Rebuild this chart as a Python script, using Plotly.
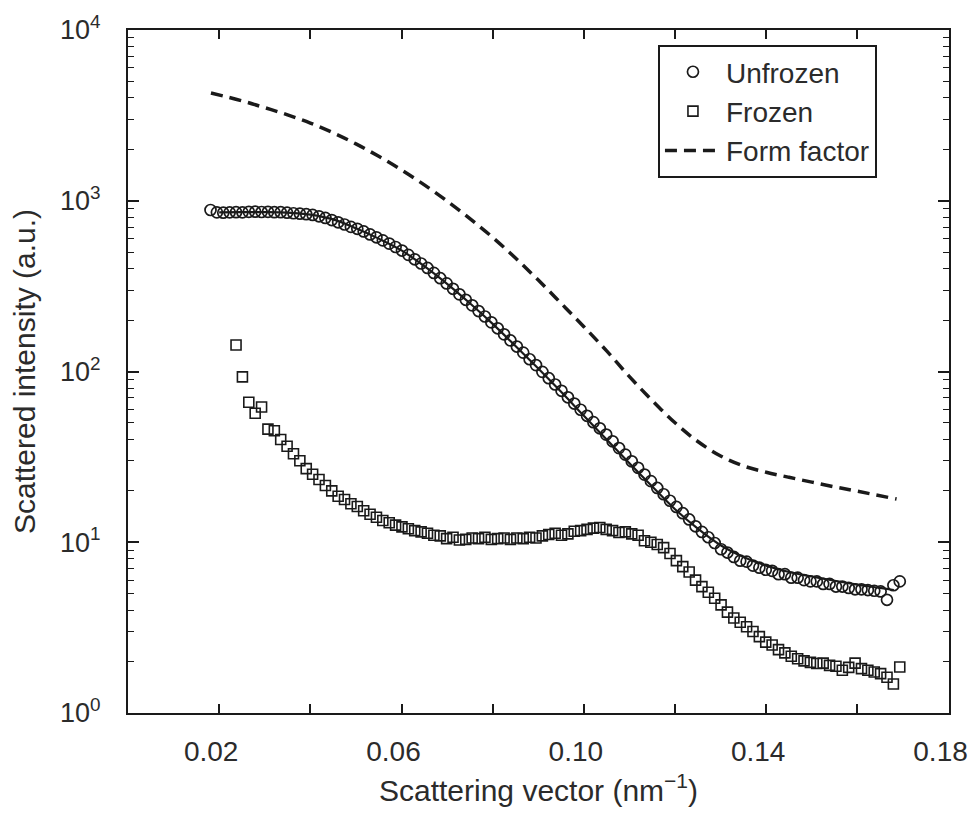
import plotly.graph_objects as go

# scattering vector grid (nm^-1) shared by both measured curves
q = [
    0.0181, 0.0195, 0.0209, 0.0223, 0.0237, 0.0251, 0.0265, 0.0279, 0.0293, 0.0307,
    0.0321, 0.0335, 0.0349, 0.0363, 0.0377, 0.0391, 0.0405, 0.0419, 0.0433, 0.0447,
    0.0461, 0.0475, 0.0489, 0.0503, 0.0517, 0.0531, 0.0545, 0.0559, 0.0573, 0.0587,
    0.0601, 0.0615, 0.0629, 0.0643, 0.0657, 0.0671, 0.0685, 0.0699, 0.0713, 0.0727,
    0.0741, 0.0755, 0.0769, 0.0783, 0.0797, 0.0811, 0.0825, 0.0839, 0.0853, 0.0867,
    0.0881, 0.0895, 0.0909, 0.0923, 0.0937, 0.0951, 0.0965, 0.0979, 0.0993, 0.1007,
    0.1021, 0.1035, 0.1049, 0.1063, 0.1077, 0.1091, 0.1105, 0.1119, 0.1133, 0.1147,
    0.1161, 0.1175, 0.1189, 0.1203, 0.1217, 0.1231, 0.1245, 0.1259, 0.1273, 0.1287,
    0.1301, 0.1315, 0.1329, 0.1343, 0.1357, 0.1371, 0.1385, 0.1399, 0.1413, 0.1427,
    0.1441, 0.1455, 0.1469, 0.1483, 0.1497, 0.1511, 0.1525, 0.1539, 0.1553, 0.1567,
    0.1581, 0.1595, 0.1609, 0.1623, 0.1637, 0.1651, 0.1665, 0.1679, 0.1693,
]

unfrozen = [
    883, 855, 851, 855, 857, 855, 861, 863, 859, 861,
    857, 857, 851, 845, 840, 834, 826, 811, 793, 771,
    748, 726, 703, 685, 661, 635, 611, 586, 561, 536,
    511, 482, 454, 429, 404, 378, 352, 328, 305, 283,
    263, 244, 226, 210, 194, 179, 165, 152, 140, 129,
    118, 109, 99.5, 91.4, 83.9, 77.1, 70.6, 64.9, 59.7, 55.0,
    50.5, 46.5, 42.7, 39.0, 35.6, 32.6, 29.8, 27.3, 24.9, 22.8,
    20.8, 19.1, 17.5, 16.1, 14.8, 13.6, 12.4, 11.5, 10.7, 9.9,
    9.1, 8.7, 8.2, 7.8, 7.7, 7.3, 7.1, 6.9, 6.8, 6.5,
    6.5, 6.2, 6.2, 6.0, 5.9, 5.9, 5.7, 5.7, 5.5, 5.5,
    5.4, 5.3, 5.3, 5.25, 5.2, 5.15, 4.6, 5.6, 5.9,
]

# frozen sample starts later on the same grid
q_frozen = q[4:]
frozen = [
    143, 93, 66, 57, 62, 46, 45, 40, 36.5, 33,
    30, 27, 25, 23.3, 21.5, 20.0, 18.6, 17.8, 16.8, 16.2,
    15.3, 14.6, 14.0, 13.4, 13.0, 12.6, 12.3, 12.0, 11.7, 11.5,
    11.3, 11.0, 10.9, 10.5, 10.7, 10.3, 10.4, 10.6, 10.5, 10.7,
    10.4, 10.5, 10.6, 10.4, 10.6, 10.5, 10.7, 10.6, 10.9, 11.1,
    11.3, 11.0, 11.2, 11.6, 11.7, 11.9, 12.1, 12.2, 11.9, 11.7,
    11.4, 11.5, 11.2, 11.0, 10.2, 10.0, 9.7, 9.3, 8.6, 7.8,
    7.2, 6.7, 6.0, 5.5, 5.1, 4.7, 4.3, 3.9, 3.6, 3.4,
    3.2, 3.0, 2.8, 2.6, 2.5, 2.35, 2.25, 2.15, 2.08, 2.02,
    1.98, 1.95, 1.96, 1.90, 1.88, 1.78, 1.85, 1.96, 1.82, 1.78,
    1.74, 1.70, 1.62, 1.48, 1.86,
]

# model fit through the unfrozen data (solid line)
fit_q = [
    0.020, 0.025, 0.030, 0.035, 0.040, 0.045, 0.050, 0.055, 0.060, 0.065,
    0.070, 0.075, 0.080, 0.085, 0.090, 0.095, 0.100, 0.105, 0.110, 0.115,
    0.120, 0.125, 0.130, 0.135, 0.140, 0.145, 0.150, 0.155, 0.160, 0.165, 0.168,
]
fit_i = [
    855, 858, 858, 852, 830, 778, 690, 600, 512, 414,
    326, 251, 190, 141, 104, 76, 55, 40, 29, 21.2,
    15.6, 12.0, 9.6, 8.2, 7.3, 6.7, 6.3, 5.95, 5.65, 5.4, 5.25,
]

form_q = [
    0.0182, 0.025, 0.030, 0.035, 0.040, 0.045, 0.050, 0.055, 0.060, 0.065,
    0.070, 0.075, 0.080, 0.085, 0.090, 0.095, 0.100, 0.105, 0.110, 0.115,
    0.120, 0.125, 0.130, 0.135, 0.140, 0.145, 0.150, 0.155, 0.160, 0.1686,
]
form_i = [
    4276, 3846, 3508, 3184, 2851, 2500, 2153, 1820, 1514, 1239,
    995, 785, 610, 462, 343, 251, 183, 132, 93.3, 67.6,
    50.1, 38.9, 32.0, 28.0, 25.7, 24.0, 22.5, 21.1, 19.9, 17.9,
]

y_tickvals = [1, 10, 100, 1000, 10000]
y_ticktext = ["10<sup>0</sup>", "10<sup>1</sup>", "10<sup>2</sup>", "10<sup>3</sup>", "10<sup>4</sup>"]
y_minor = [m * d for d in (1, 10, 100, 1000) for m in range(2, 10)]

FONT = "Liberation Sans, Arial, Helvetica, sans-serif"
INK = "#1a1a1a"

fig = go.Figure()
fig.add_trace(go.Scatter(
    x=q, y=unfrozen, mode="markers", name="Unfrozen",
    marker=dict(symbol="circle-open", size=11, color=INK, line=dict(width=1.7, color=INK)),
))
fig.add_trace(go.Scatter(
    x=q_frozen, y=frozen, mode="markers", name="Frozen",
    marker=dict(symbol="square-open", size=10, color=INK, line=dict(width=1.6, color=INK)),
))
fig.add_trace(go.Scatter(
    x=form_q, y=form_i, mode="lines", name="Form factor", line_shape="spline",
    line=dict(color=INK, width=3.5, dash="12px,7px"),
))
fig.add_trace(go.Scatter(
    x=fit_q, y=fit_i, mode="lines", showlegend=False, line_shape="spline",
    line=dict(color=INK, width=2.2),
))

# the page body adds an 8px margin, so the figure is sized to fit inside the window
fig.update_layout(
    width=960, height=799,
    margin=dict(l=120, r=19, t=22, b=94),
    paper_bgcolor="white", plot_bgcolor="white",
    font=dict(family=FONT, size=28, color="#2b2b2b"),
    showlegend=True,
    legend=dict(
        x=0.6455, y=0.978, xanchor="left", yanchor="top",
        bordercolor=INK, borderwidth=2, bgcolor="white",
        font=dict(size=28, color="#2b2b2b"), itemwidth=56,
        tracegroupgap=0,
    ),
    xaxis=dict(
        range=[0, 0.1801], tick0=0.02, dtick=0.04, tickformat=".2f",
        ticks="inside", ticklen=9, tickwidth=1.5, tickcolor=INK,
        minor=dict(dtick=0.02, tick0=0, ticks="inside", ticklen=9, tickwidth=1.5, tickcolor=INK),
        showline=True, linecolor=INK, linewidth=2, mirror="allticks",
        showgrid=False, zeroline=False, ticklabelstandoff=12, automargin=False,
        ticklabelshift=-8, ticklabeloverflow="allow",
        tickfont=dict(size=28),
        title=dict(text="Scattering vector (nm<sup>−1</sup>)", font=dict(size=30), standoff=19),
    ),
    yaxis=dict(
        type="log", range=[0, 4],
        tickvals=y_tickvals, ticktext=y_ticktext,
        ticks="inside", ticklen=11, tickwidth=1.5, tickcolor=INK,
        minor=dict(tickvals=y_minor, ticks="inside", ticklen=6, tickwidth=1.2, tickcolor=INK),
        showline=True, linecolor=INK, linewidth=2, mirror="allticks",
        showgrid=False, zeroline=False, ticklabelstandoff=20, automargin=False,
        tickfont=dict(size=27),
        title=dict(text="Scattered intensity (a.u.)", font=dict(size=30), standoff=16),
    ),
)

fig.write_html("out.html")
